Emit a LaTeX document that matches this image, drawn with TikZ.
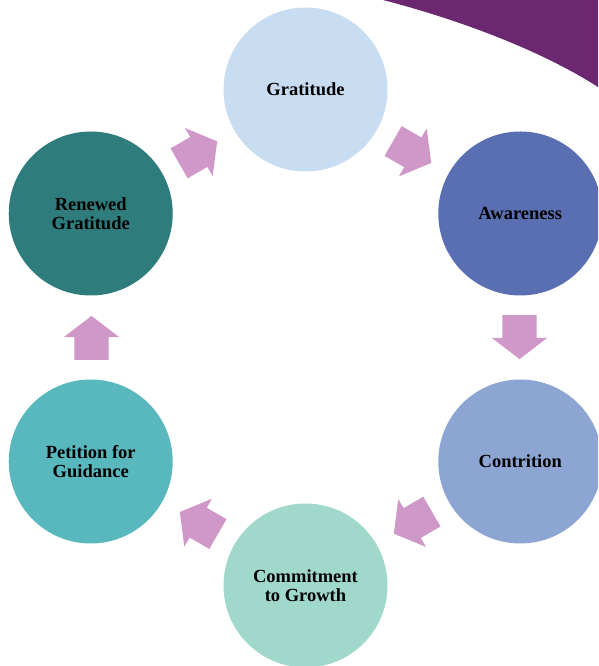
\documentclass[tikz,border=0pt]{standalone}
\usepackage{fontspec}
\setmainfont{Liberation Serif}
\usetikzlibrary{shapes.arrows}

\definecolor{plum}{HTML}{6B2770}
\definecolor{pinkarrow}{HTML}{CF98C8}
\definecolor{gratblue}{HTML}{C9DDF2}
\definecolor{awareblue}{HTML}{5A6FB2}
\definecolor{contrblue}{HTML}{8DA5D3}
\definecolor{commitgreen}{HTML}{A0D8CB}
\definecolor{petitteal}{HTML}{58B8BE}
\definecolor{renewteal}{HTML}{2F7C7C}

\begin{document}
\begin{tikzpicture}[
            x=1pt, y=1pt,
            every node/.style={font=\bfseries\fontsize{18.5}{18.5}\selectfont, align=center, text=black},
            stage/.style={circle, minimum size=164pt, inner sep=0pt},
            flow/.style={single arrow, fill=pinkarrow, draw=none,
                inner xsep=0pt, inner ysep=17pt, minimum height=44pt,
                single arrow head extend=10.5pt, single arrow tip angle=105}
        ]

            % 1. Page size (the circles run over the edges)
            \clip (0,0) rectangle (598,666);

            % 2. Purple corner in the top right
            \fill[plum] (383,666) .. controls (460,646) and (540,616) .. (598,579)
                -- (598,666) -- cycle;

            % 3. The six stages round the middle point
            \coordinate (mid) at (305.5,328.5);
            \node[stage, fill=gratblue] (grat) at ([shift={(90:248pt)}]mid) {Gratitude};
            \node[stage, fill=awareblue] (aware) at ([shift={(30:248pt)}]mid) {Awareness};
            \node[stage, fill=contrblue] (contr) at ([shift={(-30:248pt)}]mid) {Contrition};
            \node[stage, fill=commitgreen] (commit) at ([shift={(-90:248pt)}]mid) {Commitment\\to Growth};
            \node[stage, fill=petitteal] (petit) at ([shift={(-150:248pt)}]mid) {Petition for\\Guidance};
            \node[stage, fill=renewteal] (renew) at ([shift={(150:248pt)}]mid) {Renewed\\Gratitude};

            % 4. Arrows between the stages (clockwise), pulled back a bit along their own axis
            \node[flow, rotate=-30, xshift=-7pt] (arrGA) at ([shift={(60:214pt)}]mid) {};
            \node[flow, rotate=-90, xshift=-7pt] (arrAC) at ([shift={(0:214pt)}]mid) {};
            \node[flow, rotate=-150, xshift=-7pt] (arrCC) at ([shift={(-60:214pt)}]mid) {};
            \node[flow, rotate=150, xshift=-7pt] (arrCP) at ([shift={(-120:214pt)}]mid) {};
            \node[flow, rotate=90, xshift=-7pt] (arrPR) at ([shift={(180:214pt)}]mid) {};
            \node[flow, rotate=30, xshift=-7pt] (arrRG) at ([shift={(120:214pt)}]mid) {};

        \end{tikzpicture}
\end{document}
